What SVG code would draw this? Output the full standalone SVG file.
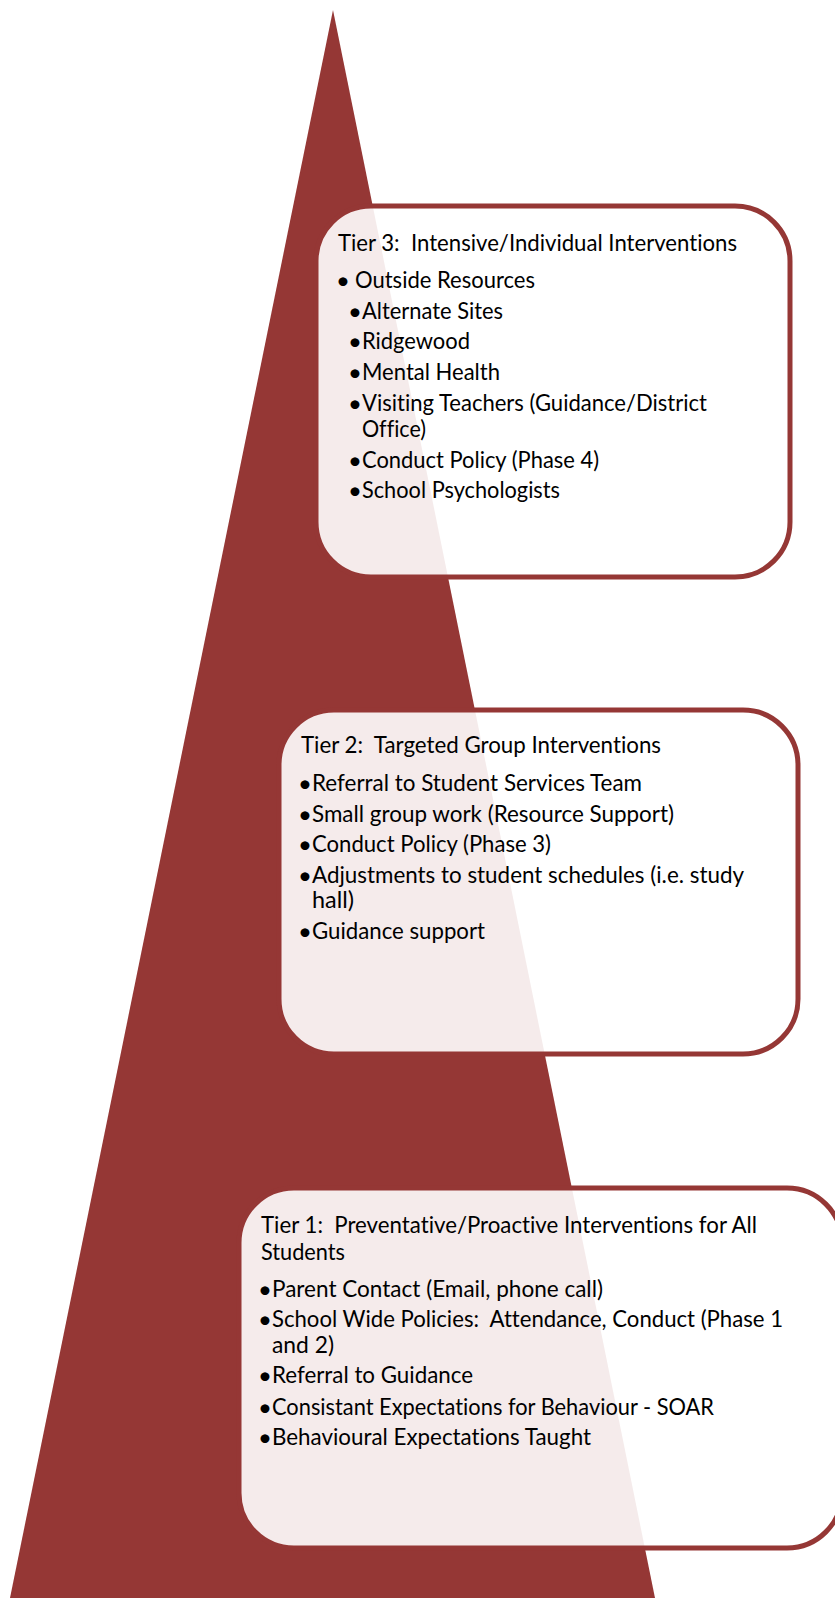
<svg xmlns="http://www.w3.org/2000/svg" width="835" height="1598" viewBox="0 0 835 1598">
<style>
.tri{fill:#953735;}
.box{fill:#ffffff;fill-opacity:0.9;stroke:#953735;stroke-width:5;}
.t{font-family:Lato,"Liberation Sans",sans-serif;font-size:23px;fill:#000;white-space:pre;font-variant-ligatures:none;}
.b{font-family:Lato,"Liberation Sans",sans-serif;font-size:24px;fill:#000;text-anchor:middle;}
</style>
<rect x="0" y="0" width="835" height="1598" fill="#ffffff"/>
<g id="pyramid">
<polygon class="tri" points="333,10 10,1598 655,1598"/>
</g>
<g id="connectors"></g>
<g id="tier3">
<rect class="box" x="316" y="206" width="474" height="371" rx="55" ry="55"/>
<text class="t" x="338" y="251" textLength="399" lengthAdjust="spacingAndGlyphs" xml:space="preserve">Tier 3:  Intensive/Individual Interventions</text>
<text class="b" x="343" y="289">•</text>
<text class="t" x="355" y="288" textLength="180" lengthAdjust="spacingAndGlyphs">Outside Resources</text>
<text class="b" x="355" y="320">•</text>
<text class="t" x="362" y="319" textLength="141" lengthAdjust="spacingAndGlyphs">Alternate Sites</text>
<text class="b" x="355" y="350">•</text>
<text class="t" x="362" y="349" textLength="108" lengthAdjust="spacingAndGlyphs">Ridgewood</text>
<text class="b" x="355" y="381">•</text>
<text class="t" x="362" y="380" textLength="138" lengthAdjust="spacingAndGlyphs">Mental Health</text>
<text class="b" x="355" y="412">•</text>
<text class="t" x="362" y="411" textLength="345" lengthAdjust="spacingAndGlyphs">Visiting Teachers (Guidance/District</text>
<text class="t" x="362" y="437" textLength="64" lengthAdjust="spacingAndGlyphs">Office)</text>
<text class="b" x="355" y="469">•</text>
<text class="t" x="362" y="468" textLength="237" lengthAdjust="spacingAndGlyphs">Conduct Policy (Phase 4)</text>
<text class="b" x="355" y="499">•</text>
<text class="t" x="362" y="498" textLength="198" lengthAdjust="spacingAndGlyphs">School Psychologists</text>
</g>
<g id="tier2">
<rect class="box" x="279" y="710" width="519" height="344" rx="55" ry="55"/>
<text class="t" x="301" y="753" textLength="360" lengthAdjust="spacingAndGlyphs" xml:space="preserve">Tier 2:  Targeted Group Interventions</text>
<text class="b" x="305" y="792">•</text>
<text class="t" x="312" y="791" textLength="330" lengthAdjust="spacingAndGlyphs">Referral to Student Services Team</text>
<text class="b" x="305" y="823">•</text>
<text class="t" x="312" y="822" textLength="362" lengthAdjust="spacingAndGlyphs">Small group work (Resource Support)</text>
<text class="b" x="305" y="853">•</text>
<text class="t" x="312" y="852" textLength="239" lengthAdjust="spacingAndGlyphs">Conduct Policy (Phase 3)</text>
<text class="b" x="305" y="884">•</text>
<text class="t" x="312" y="883" textLength="432" lengthAdjust="spacingAndGlyphs">Adjustments to student schedules (i.e. study</text>
<text class="t" x="312" y="908" textLength="42" lengthAdjust="spacingAndGlyphs">hall)</text>
<text class="b" x="305" y="940">•</text>
<text class="t" x="312" y="939" textLength="173" lengthAdjust="spacingAndGlyphs">Guidance support</text>
</g>
<g id="tier1">
<rect class="box" x="239" y="1188" width="603" height="360" rx="55" ry="55"/>
<text class="t" x="261" y="1233" textLength="496" lengthAdjust="spacingAndGlyphs" xml:space="preserve">Tier 1:  Preventative/Proactive Interventions for All</text>
<text class="t" x="261" y="1260" textLength="84" lengthAdjust="spacingAndGlyphs">Students</text>
<text class="b" x="265" y="1298">•</text>
<text class="t" x="272" y="1297" textLength="331" lengthAdjust="spacingAndGlyphs">Parent Contact (Email, phone call)</text>
<text class="b" x="265" y="1328">•</text>
<text class="t" x="272" y="1327" textLength="511" lengthAdjust="spacingAndGlyphs" xml:space="preserve">School Wide Policies:  Attendance, Conduct (Phase 1</text>
<text class="t" x="272" y="1353" textLength="62" lengthAdjust="spacingAndGlyphs">and 2)</text>
<text class="b" x="265" y="1384">•</text>
<text class="t" x="272" y="1383" textLength="201" lengthAdjust="spacingAndGlyphs">Referral to Guidance</text>
<text class="b" x="265" y="1416">•</text>
<text class="t" x="272" y="1415" textLength="442" lengthAdjust="spacingAndGlyphs">Consistant Expectations for Behaviour - SOAR</text>
<text class="b" x="265" y="1446">•</text>
<text class="t" x="272" y="1445" textLength="319" lengthAdjust="spacingAndGlyphs">Behavioural Expectations Taught</text>
</g>
</svg>
